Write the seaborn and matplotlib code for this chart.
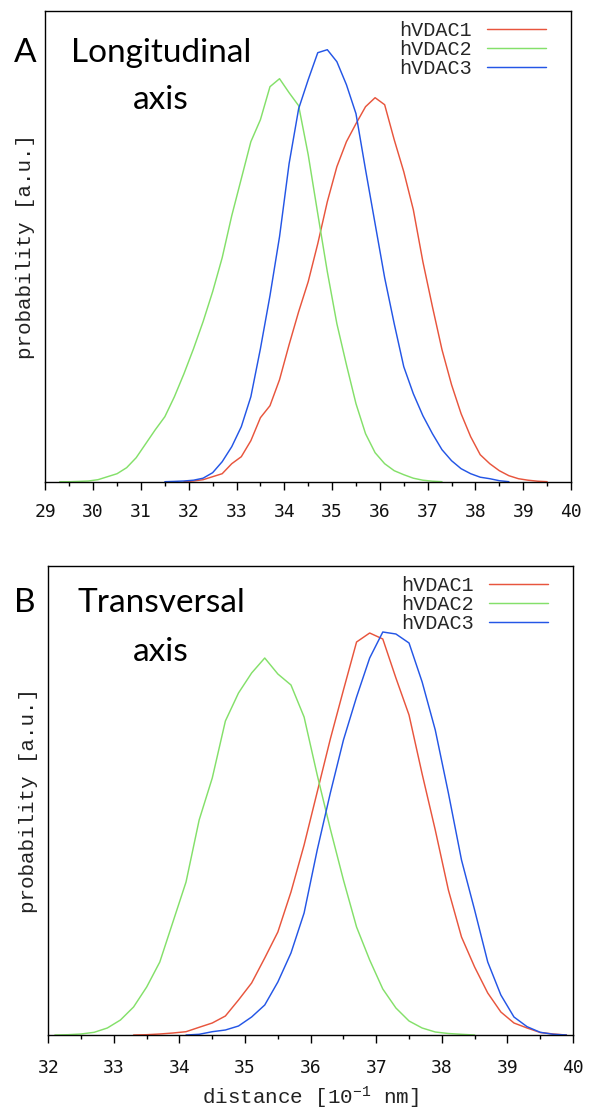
import numpy as np
import pandas as pd
import matplotlib
matplotlib.use("Agg")
import matplotlib.pyplot as plt
import seaborn as sns
from matplotlib.ticker import MultipleLocator

# ---------------- data ----------------
series_names = ["hVDAC1", "hVDAC2", "hVDAC3"]
series_colors = ["#e8553d", "#84e06a", "#2456e6"]

# Panel A : longitudinal axis
a_hvdac1_x = [31.9, 32.1, 32.3, 32.5, 32.7, 32.9, 33.1, 33.3, 33.5, 33.7, 33.9, 34.1, 34.3, 34.5,
              34.7, 34.9, 35.1, 35.3, 35.5, 35.7, 35.9, 36.1, 36.3, 36.5, 36.7, 36.9, 37.1, 37.3,
              37.5, 37.7, 37.9, 38.1, 38.3, 38.5, 38.7, 38.9, 39.1, 39.3, 39.5]
a_hvdac1_y = [0, 0.7, 2, 5, 8, 18, 25, 41, 64, 76, 102, 137, 170, 200,
              238, 280, 315, 340, 358, 375, 384, 377, 342, 310, 272, 220, 175, 132,
              97, 68, 45, 27, 18, 11, 6, 3, 1.5, 0.5, 0]

a_hvdac2_x = [29.3, 29.5, 29.7, 29.9, 30.1, 30.3, 30.5, 30.7, 30.9, 31.1, 31.3, 31.5, 31.7, 31.9,
              32.1, 32.3, 32.5, 32.7, 32.9, 33.1, 33.3, 33.5, 33.7, 33.9, 34.1, 34.3, 34.5, 34.7,
              34.9, 35.1, 35.3, 35.5, 35.7, 35.9, 36.1, 36.3, 36.5, 36.7, 36.9, 37.1, 37.3]
a_hvdac2_y = [0, 0, 0.3, 0.7, 2, 5, 8, 14, 24, 38, 52, 65, 85, 108,
              133, 160, 190, 224, 266, 303, 340, 362, 395, 403, 389, 376, 327, 268,
              210, 158, 117, 78, 48, 29, 18, 11, 7, 3.5, 1.5, 0.5, 0]

a_hvdac3_x = [31.5, 31.7, 31.9, 32.1, 32.3, 32.5, 32.7, 32.9, 33.1, 33.3, 33.5, 33.7, 33.9, 34.1,
              34.3, 34.5, 34.7, 34.9, 35.1, 35.3, 35.5, 35.7, 35.9, 36.1, 36.3, 36.5, 36.7, 36.9,
              37.1, 37.3, 37.5, 37.7, 37.9, 38.1, 38.3, 38.5, 38.7]
a_hvdac3_y = [0, 0.3, 0.7, 1.5, 3.5, 9, 20, 35, 55, 85, 133, 186, 245, 318,
              373, 402, 429, 432, 420, 397, 368, 312, 258, 204, 158, 115, 88, 66,
              48, 32, 21, 13, 8, 4.5, 3, 1, 0]

# Panel B : transversal axis
b_hvdac1_x = [33.3, 33.5, 33.7, 33.9, 34.1, 34.3, 34.5, 34.7, 34.9, 35.1, 35.3, 35.5, 35.7, 35.9,
              36.1, 36.3, 36.5, 36.7, 36.9, 37.1, 37.3, 37.5, 37.7, 37.9, 38.1, 38.3, 38.5, 38.7,
              38.9, 39.1, 39.3, 39.5, 39.7, 39.9]
b_hvdac1_y = [0, 0.3, 1, 2, 3.3, 7.7, 12, 19, 35, 52, 77, 103, 143, 190,
              243, 296, 345, 393, 402, 396, 357, 320, 261, 205, 145, 98, 68, 42,
              23, 12, 7, 2.5, 1, 0]

b_hvdac2_x = [32.1, 32.3, 32.5, 32.7, 32.9, 33.1, 33.3, 33.5, 33.7, 33.9, 34.1, 34.3, 34.5, 34.7,
              34.9, 35.1, 35.3, 35.5, 35.7, 35.9, 36.1, 36.3, 36.5, 36.7, 36.9, 37.1, 37.3, 37.5,
              37.7, 37.9, 38.1, 38.3, 38.5]
b_hvdac2_y = [0, 0.3, 1, 2.7, 7, 15, 28, 48, 73, 113, 153, 215, 257, 314,
              342, 362, 377, 361, 350, 318, 260, 206, 155, 108, 75, 46, 27, 14,
              7, 3, 1.5, 0.7, 0]

b_hvdac3_x = [34.1, 34.3, 34.5, 34.7, 34.9, 35.1, 35.3, 35.5, 35.7, 35.9, 36.1, 36.3, 36.5, 36.7,
              36.9, 37.1, 37.3, 37.5, 37.7, 37.9, 38.1, 38.3, 38.5, 38.7, 38.9, 39.1, 39.3, 39.5,
              39.7, 39.9]
b_hvdac3_y = [0, 0.7, 3.3, 5, 9, 18, 30, 53, 82, 122, 185, 242, 295, 338,
              377, 403, 401, 392, 353, 305, 242, 175, 125, 73, 40, 18, 8.3, 2.7,
              0.7, 0]

a_xticks = list(range(29, 41))
b_xticks = list(range(32, 41))
ylabel_text = "probability [a.u.]"
xlabel_text = r"distance [10$^{-1}$ nm]"

# ---------------- style ----------------
sns.set_theme(style="ticks")
plt.rcParams["font.family"] = ["Liberation Mono", "DejaVu Sans Mono"]
plt.rcParams["mathtext.fontset"] = "custom"
plt.rcParams["mathtext.rm"] = "Liberation Mono"
plt.rcParams["mathtext.it"] = "Liberation Mono"
plt.rcParams["mathtext.default"] = "regular"

palette = dict(zip(series_names, series_colors))


def make_df(xs, ys):
    frames = []
    for name, x, y in zip(series_names, xs, ys):
        frames.append(pd.DataFrame({"distance": x, "probability": y, "protein": name}))
    return pd.concat(frames, ignore_index=True)


df_a = make_df([a_hvdac1_x, a_hvdac2_x, a_hvdac3_x], [a_hvdac1_y, a_hvdac2_y, a_hvdac3_y])
df_b = make_df([b_hvdac1_x, b_hvdac2_x, b_hvdac3_x], [b_hvdac1_y, b_hvdac2_y, b_hvdac3_y])

W, H = 589, 1109
fig = plt.figure(figsize=(W / 100, H / 100), dpi=100)
fig.patch.set_facecolor("white")

axA = fig.add_axes([45.4 / W, 1 - 481.7 / H, (571 - 45.4) / W, (481.7 - 11) / H])
axB = fig.add_axes([48.3 / W, 1 - 1035 / H, (573 - 48.3) / W, (1035 - 566) / H])


def style_axis(ax, df, xlim, ticks, ytop, pad):
    sns.lineplot(data=df, x="distance", y="probability", hue="protein",
                 hue_order=series_names, palette=palette, estimator=None,
                 linewidth=1.05, ax=ax, legend=True)
    ax.set_xlim(*xlim)
    ax.set_ylim(0, ytop)
    ax.set_xticks(ticks)
    ax.xaxis.set_minor_locator(MultipleLocator(0.5))
    ax.set_yticks([])
    ax.tick_params(axis="x", which="major", direction="out", length=6, width=1,
                   color="black", pad=pad)
    ax.tick_params(axis="x", which="minor", direction="out", length=3, width=1,
                   color="black")
    for lab in ax.get_xticklabels():
        lab.set_fontfamily("DejaVu Sans Mono")
        lab.set_fontsize(13)
        lab.set_color("#111111")
    for sp in ax.spines.values():
        sp.set_visible(True)
        sp.set_color("black")
        sp.set_linewidth(1.0)
    ax.set_ylabel(ylabel_text, fontsize=15, color="#222222")
    ax.yaxis.set_label_coords(-0.02, 0.5)
    handles, labels = ax.get_legend_handles_labels()
    ax.legend(handles, labels, loc="upper right", bbox_to_anchor=(0.967, 0.995),
              frameon=False, markerfirst=False,
              prop={"family": "Liberation Mono", "size": 14.5},
              handlelength=2.9, handletextpad=0.75, labelspacing=0.0, borderaxespad=0.0)
    ax.set_facecolor("white")


style_axis(axA, df_a, (29, 40), a_xticks, 470.7, 9.5)
style_axis(axB, df_b, (32, 40), b_xticks, 469, 11.5)
axA.set_xlabel("")
axB.set_xlabel(xlabel_text, fontsize=15, color="#222222")
axB.xaxis.label.set_va("baseline")
axB.xaxis.set_label_coords(0.5, (1035 - 1104) / 469)

title_font = dict(family="Lato", size=24, color="black", ha="center", va="baseline")
fig.text(161 / W, 1 - 62 / H, "Longitudinal", **title_font)
fig.text(161 / W, 1 - 109 / H, "axis", **title_font)
fig.text(161 / W, 1 - 612 / H, "Transversal", **title_font)
fig.text(161 / W, 1 - 661 / H, "axis", **title_font)
fig.text(25 / W, 1 - 62 / H, "A", **title_font)
fig.text(25 / W, 1 - 612 / H, "B", **title_font)

fig.savefig("out.png", dpi=100, facecolor="white")
